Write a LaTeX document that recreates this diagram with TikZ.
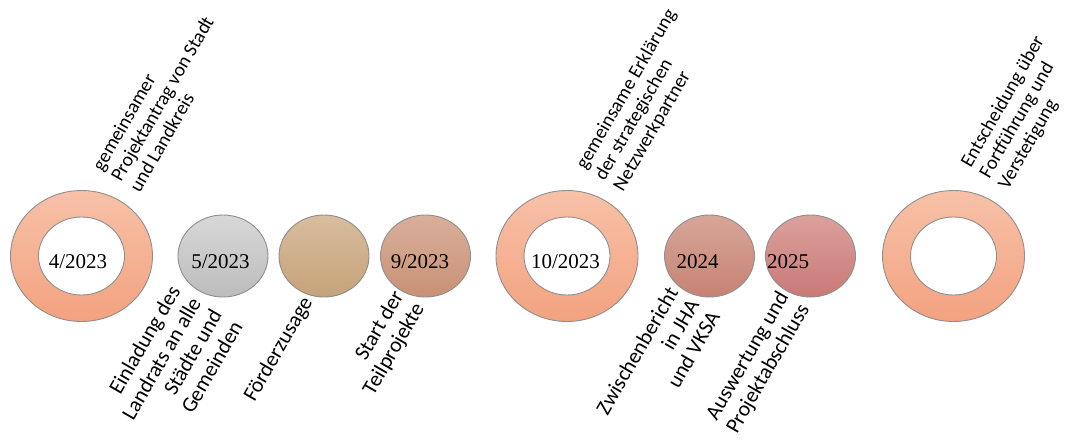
\documentclass[tikz,border=0pt]{standalone}
\usepackage{fontspec}
\setmainfont{Carlito}
\newfontfamily\dateFont{Liberation Serif}
\usetikzlibrary{shapes.geometric}
\tikzset{pixels/.style = {x = 1pt, y = -1pt}}
\definecolor{ringLine}{HTML}{8E8E8E}
\definecolor{ringTop}{HTML}{F7C1A8}
\definecolor{ringBottom}{HTML}{F3A27F}
\definecolor{greyTop}{HTML}{D8D8D8}
\definecolor{greyBottom}{HTML}{BCBCBC}
\definecolor{sandTop}{HTML}{D7BD9F}
\definecolor{sandBottom}{HTML}{C7A279}
\definecolor{clayTop}{HTML}{D9AF9A}
\definecolor{clayBottom}{HTML}{C99175}
\definecolor{roseTop}{HTML}{D7A698}
\definecolor{roseBottom}{HTML}{C68273}
\definecolor{redTop}{HTML}{DBA19E}
\definecolor{redBottom}{HTML}{C97975}
\tikzset{
  ringStyle/.style = {ellipse, draw=ringLine, line width=.9pt, inner sep=0pt, minimum width=142pt, minimum height=131pt, top color=ringTop, bottom color=ringBottom},
  holeStyle/.style = {ellipse, draw=ringLine, line width=.9pt, inner sep=0pt, fill=white, minimum width=86pt, minimum height=78pt},
  dotStyle/.style = {ellipse, draw=ringLine, line width=.9pt, inner sep=0pt, minimum width=90pt, minimum height=82pt},
  dateText/.style = {font=\dateFont\fontsize{21}{25}\selectfont, anchor=base, inner sep=0pt},
  topText/.style = {font=\fontsize{19.5}{21.5}\selectfont, rotate=60, anchor=south west, align=left, inner sep=0pt},
  bottomText/.style = {font=\fontsize{21.5}{24}\selectfont, rotate=60, anchor=north east, align=right, inner sep=0pt}
}
\newcommand{\ringMark}[2]{\node [ringStyle] (#1) at (#2, 256) {}; \node [holeStyle] (#1Hole) at (#1.center) {};}
\newcommand{\dotMark}[3]{\node [dotStyle, top color=#3Top, bottom color=#3Bottom] (#1) at (#2, 256) {};}
\begin{document}
\begin{tikzpicture}[pixels]
\useasboundingbox (0, 0) rectangle (1067, 441);
\ringMark{ringA}{81.5}\ringMark{ringB}{567}\ringMark{ringC}{953.5}
\dotMark{dotA}{223}{grey}\dotMark{dotB}{324}{sand}\dotMark{dotC}{425.5}{clay}
\dotMark{dotD}{709.5}{rose}\dotMark{dotE}{810.5}{red}
% dates
\node [dateText] (dateA) at (78, 268) {4/2023};
\node [dateText] (dateB) at (220.5, 268) {5/2023};
\node [dateText] (dateC) at (420, 268) {9/2023};
\node [dateText] (dateD) at (565.5, 268) {10/2023};
\node [dateText] (dateE) at (697.5, 268) {2024};
\node [dateText] (dateF) at (788, 268) {2025};
% labels above
\node [topText] (topA) at (140, 194) {gemeinsamer\\Projektantrag von Stadt\\und Landkreis};
\node [topText] (topB) at (626, 194) {gemeinsame Erklärung\\der strategischen\\Netzwerkpartner};
\node [topText] (topC) at (1011, 192) {Entscheidung über\\Fortführung und\\Verstetigung};
% labels below
\node [bottomText] (bottomA) at (168, 283) {Einladung des\\Landrats an alle\\Städte und\\Gemeinden};
\node [bottomText] (bottomB) at (300, 294) {Förderzusage};
\node [bottomText] (bottomC) at (391, 288) {Start der\\Teilprojekte};
\node [bottomText] (bottomD) at (666, 285) {Zwischenbericht\\in JHA\\und VKSA};
\node [bottomText] (bottomE) at (776, 289) {Auswertung und\\Projektabschluss};
\end{tikzpicture}
\end{document}
